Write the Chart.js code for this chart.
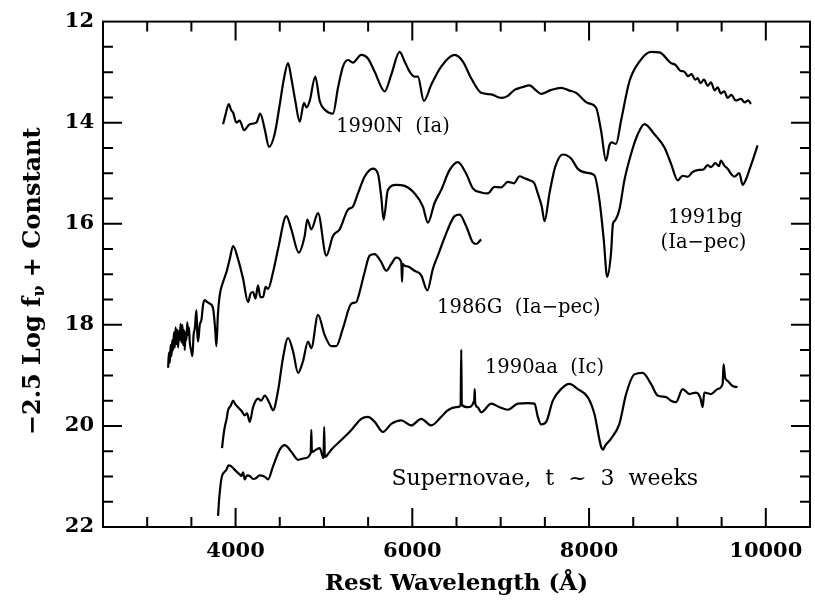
<!DOCTYPE html>
<html>
<head>
<meta charset="utf-8">
<script src="https://cdn.jsdelivr.net/npm/chart.js@4"></script>
<style>
  html, body { margin: 0; padding: 0; background: #fff; }
  #plot-spectra { display: block; }
</style>
</head>
<body>
<canvas id="plot-spectra" width="815" height="600"></canvas>
<script>
// axis ranges and tick labels
const xMin = 2500, xMax = 10500;
const yMin = 12, yMax = 22;
const xTickLabels = [4000, 6000, 8000, 10000];
const yTickLabels = [12, 14, 16, 18, 20, 22];

// spectra: [rest wavelength (A), -2.5 log f + const]
const sn1990N = [
  [3859, 14.03], [3885, 13.85], [3923, 13.63], [3950, 13.75], [3972, 13.80], [4009, 14.00],
  [4047, 13.96], [4096, 14.15], [4160, 14.03], [4235, 14.00], [4280, 13.82], [4330, 14.13],
  [4379, 14.48], [4443, 14.22], [4500, 13.64], [4548, 13.12], [4594, 12.82], [4631, 13.12],
  [4676, 13.57], [4726, 13.98], [4774, 13.61], [4805, 13.70], [4839, 13.57], [4902, 13.09],
  [4952, 13.57], [5008, 13.74], [5102, 13.82], [5159, 13.31], [5215, 12.89], [5272, 12.76],
  [5328, 12.81], [5422, 12.66], [5498, 12.73], [5574, 12.99], [5687, 13.38], [5762, 13.05],
  [5856, 12.60], [5913, 12.79], [5970, 12.99], [6026, 13.09], [6063, 13.09], [6131, 13.57],
  [6214, 13.25], [6327, 12.89], [6478, 12.66], [6572, 12.79], [6666, 13.12], [6779, 13.41],
  [6892, 13.44], [7005, 13.51], [7081, 13.47], [7157, 13.35], [7240, 13.30], [7326, 13.26],
  [7400, 13.36], [7458, 13.43], [7560, 13.36], [7684, 13.31], [7770, 13.36], [7854, 13.41],
  [7985, 13.61], [8079, 13.70], [8136, 14.16], [8192, 14.75], [8230, 14.45], [8257, 14.39],
  [8305, 14.42], [8362, 13.96], [8457, 13.18], [8570, 12.79], [8701, 12.60], [8796, 12.61],
  [8927, 12.82], [8980, 12.86], [9030, 12.97], [9078, 12.99], [9120, 13.08], [9160, 13.04],
  [9200, 13.15], [9229, 13.12], [9260, 13.22], [9300, 13.15], [9343, 13.27], [9380, 13.20],
  [9420, 13.36], [9455, 13.30], [9490, 13.42], [9530, 13.38], [9568, 13.51], [9610, 13.45],
  [9660, 13.56], [9719, 13.53], [9760, 13.60], [9800, 13.56], [9832, 13.63]
];

const sn1991bg = [
  [3237, 18.85], [3246, 18.55], [3256, 18.75], [3265, 18.40], [3275, 18.62], [3284, 18.30],
  [3293, 18.50], [3303, 18.15], [3312, 18.45], [3322, 18.05], [3331, 18.38], [3340, 18.10],
  [3350, 18.45], [3360, 18.12], [3369, 18.30], [3378, 17.98], [3388, 18.35], [3398, 18.00],
  [3407, 18.40], [3416, 18.10], [3425, 18.50], [3435, 18.15], [3444, 18.30], [3454, 17.95],
  [3463, 18.20], [3472, 18.05], [3482, 18.35], [3497, 18.50], [3512, 18.62], [3525, 18.20],
  [3539, 18.07], [3557, 17.71], [3568, 18.20], [3576, 18.33], [3595, 18.00], [3614, 17.90],
  [3633, 17.60], [3652, 17.51], [3680, 17.55], [3708, 17.58], [3746, 17.68], [3770, 18.10],
  [3783, 18.42], [3800, 17.80], [3821, 17.41], [3859, 17.15], [3896, 16.96], [3934, 16.70],
  [3972, 16.44], [4028, 16.70], [4085, 17.09], [4141, 17.55], [4170, 17.38], [4198, 17.35],
  [4225, 17.48], [4254, 17.22], [4280, 17.45], [4311, 17.45], [4340, 17.25], [4367, 17.29],
  [4424, 16.96], [4481, 16.50], [4575, 15.85], [4631, 16.11], [4715, 16.57], [4782, 16.24],
  [4812, 15.92], [4857, 16.11], [4933, 15.79], [5027, 16.63], [5102, 16.24], [5178, 16.11],
  [5272, 15.72], [5328, 15.66], [5385, 15.40], [5460, 15.07], [5554, 14.91], [5611, 15.01],
  [5648, 15.46], [5675, 15.92], [5724, 15.33], [5818, 15.23], [5913, 15.25], [6026, 15.40],
  [6120, 15.66], [6176, 15.98], [6252, 15.59], [6327, 15.33], [6421, 14.94], [6515, 14.78],
  [6610, 15.01], [6685, 15.30], [6779, 15.38], [6854, 15.40], [6930, 15.27], [7005, 15.28],
  [7081, 15.17], [7150, 15.20], [7213, 15.06], [7270, 15.10], [7326, 15.14], [7380, 15.20],
  [7420, 15.40], [7465, 15.66], [7496, 15.95], [7552, 15.40], [7616, 14.88], [7703, 14.63],
  [7797, 14.71], [7872, 14.91], [7966, 14.99], [8060, 15.04], [8117, 15.53], [8166, 16.31],
  [8205, 17.05], [8249, 16.57], [8270, 16.00], [8287, 15.95], [8343, 15.72], [8400, 15.14],
  [8475, 14.62], [8551, 14.23], [8627, 14.03], [8740, 14.23], [8853, 14.49], [8927, 14.81],
  [9003, 15.14], [9060, 15.05], [9116, 15.07], [9170, 14.98], [9229, 14.94], [9300, 14.92],
  [9340, 14.84], [9379, 14.88], [9430, 14.80], [9470, 14.86], [9492, 14.75], [9530, 14.85],
  [9568, 14.91], [9610, 15.02], [9644, 15.07], [9700, 15.00], [9738, 15.23], [9780, 15.10],
  [9813, 14.94], [9860, 14.70], [9907, 14.45]
];

const sn1986G = [
  [3847, 20.44], [3862, 20.20], [3878, 20.02], [3900, 19.85], [3915, 19.69], [3945, 19.60],
  [3972, 19.50], [4000, 19.58], [4028, 19.63], [4066, 19.70], [4104, 19.79], [4130, 19.75],
  [4160, 19.92], [4198, 19.63], [4254, 19.46], [4290, 19.50], [4330, 19.40], [4387, 19.56],
  [4424, 19.69], [4481, 19.30], [4537, 18.65], [4594, 18.26], [4650, 18.52], [4707, 18.95],
  [4763, 18.72], [4820, 18.33], [4857, 18.46], [4933, 17.80], [5008, 18.20], [5083, 18.42],
  [5140, 18.42], [5215, 18.07], [5310, 17.58], [5366, 17.55], [5404, 17.35], [5460, 16.96],
  [5517, 16.63], [5574, 16.60], [5648, 16.76], [5705, 16.93], [5760, 16.80], [5818, 16.67],
  [5875, 16.76], [5884, 17.15], [5892, 16.80], [5913, 16.83], [5960, 16.85], [6026, 16.93],
  [6101, 17.02], [6170, 17.32], [6233, 16.89], [6289, 16.63], [6402, 16.11], [6478, 15.85],
  [6535, 15.82], [6610, 16.05], [6685, 16.37], [6723, 16.40], [6779, 16.31]
];

const sn1990aa = [
  [3802, 21.78], [3812, 21.50], [3821, 21.32], [3835, 21.10], [3847, 20.99], [3870, 20.92],
  [3896, 20.87], [3920, 20.78], [3953, 20.80], [3980, 20.85], [4009, 20.90], [4040, 20.95],
  [4066, 20.99], [4085, 20.92], [4104, 21.06], [4130, 20.98], [4160, 20.99], [4200, 21.05],
  [4235, 21.03], [4270, 20.98], [4311, 20.99], [4340, 21.02], [4367, 21.06], [4424, 20.80],
  [4500, 20.47], [4556, 20.38], [4631, 20.51], [4707, 20.67], [4782, 20.64], [4850, 20.54],
  [4857, 20.08], [4864, 20.52], [4876, 20.51], [4952, 20.44], [4995, 20.64], [5003, 20.02],
  [5010, 20.62], [5027, 20.60], [5083, 20.47], [5196, 20.28], [5310, 20.08], [5422, 19.86],
  [5498, 19.82], [5574, 19.92], [5668, 20.12], [5762, 19.96], [5875, 19.89], [5988, 19.99],
  [6101, 19.86], [6214, 19.99], [6327, 19.82], [6402, 19.69], [6497, 19.63], [6546, 19.60],
  [6554, 18.49], [6560, 19.58], [6629, 19.63], [6700, 19.50], [6706, 19.27], [6712, 19.55],
  [6740, 19.63], [6779, 19.73], [6892, 19.56], [6987, 19.63], [7081, 19.68], [7194, 19.56],
  [7307, 19.55], [7383, 19.56], [7420, 19.82], [7458, 19.97], [7515, 19.92], [7590, 19.50],
  [7684, 19.27], [7778, 19.17], [7872, 19.27], [7985, 19.43], [8060, 19.76], [8136, 20.41],
  [8160, 20.47], [8180, 20.40], [8249, 20.25], [8343, 19.96], [8419, 19.37], [8513, 18.98],
  [8607, 18.95], [8701, 19.17], [8777, 19.40], [8871, 19.43], [8927, 19.50], [8984, 19.53],
  [9059, 19.27], [9135, 19.37], [9210, 19.34], [9260, 19.45], [9285, 19.63], [9304, 19.34],
  [9379, 19.37], [9455, 19.27], [9511, 19.17], [9522, 18.78], [9540, 19.05], [9568, 19.11],
  [9625, 19.21], [9681, 19.23]
];

// text labels in data units: [text, wavelength, magnitude]
const annotations = [
  ["1990N  (Ia)", 5781, 14.09],
  ["1991bg", 9314, 15.88],
  ["(Ia\u2212pec)", 9295, 16.37],
  ["1986G  (Ia\u2212pec)", 7205, 17.66],
  ["1990aa  (Ic)", 7496, 18.85],
  ["Supernovae,  t  ~  3  weeks", 7499, 21.06]
];

const serif = "'DejaVu Serif', 'Liberation Serif', serif";

function toPoints(rows) {
  return rows.map((r) => ({ x: r[0], y: r[1] }));
}

function spectrum(label, rows) {
  return {
    label: label,
    data: toPoints(rows),
    borderColor: "#000",
    borderWidth: 2.2,
    pointRadius: 0,
    fill: false,
    cubicInterpolationMode: "monotone",
  };
}

// frame with inward ticks on all four sides, annotations and y title
const decorations = {
  id: "decorations",
  afterDraw(chart) {
    const { ctx, chartArea: a, scales } = chart;
    const x = scales.x, y = scales.y;
    ctx.save();
    ctx.strokeStyle = "#000";
    ctx.lineWidth = 2;
    ctx.strokeRect(a.left, a.top, a.right - a.left, a.bottom - a.top);
    ctx.beginPath();
    for (let v = xMin + 500; v < xMax; v += 500) {
      const len = xTickLabels.includes(v) ? 19 : 10;
      const px = x.getPixelForValue(v);
      ctx.moveTo(px, a.bottom); ctx.lineTo(px, a.bottom - len);
      ctx.moveTo(px, a.top); ctx.lineTo(px, a.top + len);
    }
    for (let v = yMin + 0.5; v < yMax; v += 0.5) {
      const len = yTickLabels.includes(v) ? 19 : 10;
      const py = y.getPixelForValue(v);
      ctx.moveTo(a.left, py); ctx.lineTo(a.left + len, py);
      ctx.moveTo(a.right, py); ctx.lineTo(a.right - len, py);
    }
    ctx.stroke();

    ctx.fillStyle = "#000";
    ctx.textAlign = "center";
    ctx.textBaseline = "middle";
    annotations.forEach((t) => {
      ctx.font = (t[0].startsWith("Super") ? "22px " : "19.5px ") + serif;
      ctx.fillText(t[0], x.getPixelForValue(t[1]), y.getPixelForValue(t[2]));
    });

    // y axis title with subscript nu
    const big = "bold 24px " + serif, small = "bold 16px " + serif;
    const p1 = "\u22122.5 Log f", p2 = "\u03bd", p3 = " + Constant";
    ctx.font = big; const w1 = ctx.measureText(p1).width, w3 = ctx.measureText(p3).width;
    ctx.font = small; const w2 = ctx.measureText(p2).width;
    const total = w1 + w2 + w3;
    ctx.translate(34, (a.top + a.bottom) / 2 + 7);
    ctx.rotate(-Math.PI / 2);
    ctx.textAlign = "left";
    ctx.textBaseline = "middle";
    let cx = -total / 2;
    ctx.font = big; ctx.fillText(p1, cx, 0); cx += w1;
    ctx.font = small; ctx.fillText(p2, cx, 6); cx += w2;
    ctx.font = big; ctx.fillText(p3, cx, 0);
    ctx.restore();
  },
};

const canvas = document.getElementById("plot-spectra");
const myChart = new Chart(canvas, {
  type: "line",
  data: {
    datasets: [
      spectrum("1990N (Ia)", sn1990N),
      spectrum("1991bg (Ia-pec)", sn1991bg),
      spectrum("1986G (Ia-pec)", sn1986G),
      spectrum("1990aa (Ic)", sn1990aa),
    ],
  },
  options: {
    responsive: false,
    animation: false,
    devicePixelRatio: 1,
    layout: { padding: { top: 16, right: 5, left: 0, bottom: 0 } },
    plugins: { legend: { display: false }, tooltip: { enabled: false } },
    scales: {
      x: {
        type: "linear",
        min: xMin,
        max: xMax,
        grid: { display: false, drawTicks: false },
        border: { display: false },
        afterBuildTicks: (scale) => { scale.ticks = xTickLabels.map((v) => ({ value: v })); },
        afterFit: (scale) => { scale.height = 73; },
        ticks: {
          color: "#000",
          padding: 12,
          maxRotation: 0,
          font: { family: serif, size: 21, weight: "bold" },
          callback: (v) => String(v),
        },
        title: {
          display: true,
          text: "Rest Wavelength (\u00c5)",
          color: "#000",
          font: { family: serif, size: 23, weight: "bold" },
          padding: { top: 0, bottom: 2 },
        },
      },
      y: {
        type: "linear",
        reverse: true,
        min: yMin,
        max: yMax,
        grid: { display: false, drawTicks: false },
        border: { display: false },
        afterBuildTicks: (scale) => { scale.ticks = yTickLabels.map((v) => ({ value: v })); },
        afterFit: (scale) => { scale.width = 103; },
        ticks: {
          color: "#000",
          padding: 9,
          font: { family: serif, size: 21, weight: "bold" },
        },
      },
    },
  },
  plugins: [decorations],
});
</script>
</body>
</html>
